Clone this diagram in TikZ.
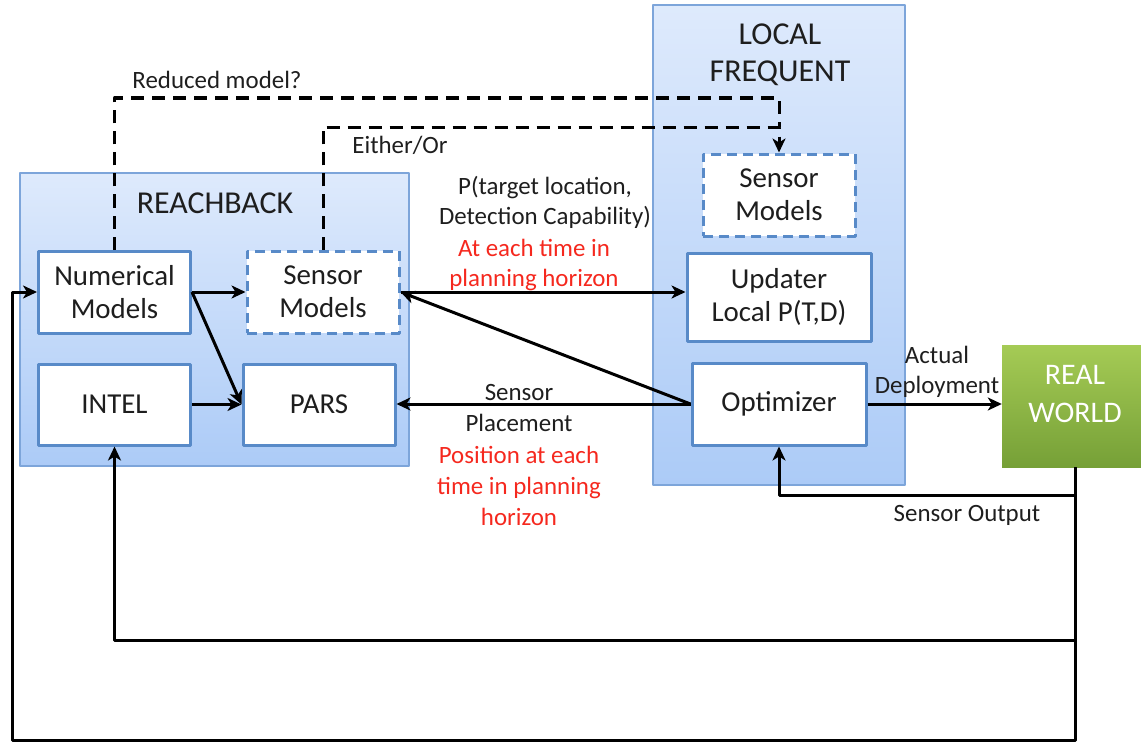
\documentclass[tikz,border=0pt]{standalone}
\usepackage{fontspec}
\setmainfont{Carlito}
\usetikzlibrary{positioning,arrows.meta}
\definecolor{boxblue}{RGB}{88,138,200}
\definecolor{panelline}{RGB}{125,165,218}
\definecolor{paneltop}{RGB}{222,234,252}
\definecolor{panelbot}{RGB}{172,203,247}
\definecolor{worldtop}{RGB}{165,203,85}
\definecolor{worldbot}{RGB}{118,160,55}
\definecolor{labelred}{RGB}{245,40,30}
\definecolor{ink}{RGB}{30,30,30}
\tikzset{
  panel/.style={draw=panelline, line width=2bp, top color=paneltop, bottom color=panelbot, inner sep=0},
  block/.style={draw=boxblue, line width=3bp, fill=white, minimum width=152bp, minimum height=82bp,
    align=center, inner sep=0, text=ink, font=\fontsize{29}{33}\selectfont},
  dashblock/.style={block, dash pattern=on 10bp off 6bp},
  title/.style={align=center, text=ink, font=\fontsize{32}{37}\selectfont},
  lbl/.style={align=center, text=ink, inner sep=0, font=\fontsize{25}{30}\selectfont},
  redlbl/.style={lbl, text=labelred},
  arr/.style={-{Stealth[length=14bp, width=13bp, inset=4bp]}, line width=3bp},
  dashline/.style={line width=3bp, dash pattern=on 13bp off 8bp},
}
\begin{document}
\begin{tikzpicture}[x=1bp, y=-1bp, line join=round]
\useasboundingbox (0,0) rectangle (1141,742);
% panels
\node[panel, minimum width=389bp, minimum height=293bp] (reach) at (214.5,319.5) {};
\node[panel, minimum width=252bp, minimum height=480bp] (local) at (779,245) {};
\node[title] (reachtitle) at (215,203) {REACHBACK};
\node[title] (localtitle) at (780,55) {LOCAL\\FREQUENT};
% blocks
\node[block] (num) at (114.5,292) {Numerical\\Models};
\node[dashblock] (sensR) at (323,292) {Sensor\\Models};
\node[block, minimum height=81bp] (intel) at (114.5,404.5) {INTEL};
\node[block, minimum height=81bp] (pars) at (319,404.5) {PARS};
\node[dashblock] (sensL) at (779,195) {Sensor\\Models};
\node[block, minimum width=184bp, minimum height=88bp] (upd) at (779,297) {Updater\\Local P(T,D)};
\node[block, minimum width=174bp] (opt) at (779,404) {Optimizer};
\node[minimum width=146bp, minimum height=122bp, top color=worldtop, bottom color=worldbot] (rw) at (1075,406) {};
\node[align=center, text=white, font=\fontsize{30}{38}\selectfont] (rwtext) at (1075,394) {REAL\\WORLD};
% labels
\node[lbl] (lreduced) at (217,80) {Reduced model?};
\node[lbl] (leither) at (400,145) {Either/Or};
\node[lbl] (lprob) at (545,202) {P(target location,\\Detection Capability)};
\node[redlbl] (lhoriz) at (534,265) {At each time in\\planning horizon};
\node[lbl, font=\fontsize{25}{31}\selectfont] (lplace) at (519,408) {Sensor\\Placement};
\node[redlbl, font=\fontsize{25}{31}\selectfont] (lpos) at (519,486) {Position at each\\time in planning\\horizon};
\node[lbl] (ldeploy) at (937,372) {Actual\\Deployment};
\node[lbl] (loutput) at (967,515) {Sensor Output};
% coordinates for routes
\coordinate (topA) at (779,98);
\coordinate (topB) at (779,127);
\coordinate (loopin) at (114.5,640);
\coordinate (loopout) at (12,740);
% connectors
\draw[arr] (num.east) -- (sensR.west);
\draw[arr] (num.east) -- (pars.west);
\draw[arr] (intel.east) -- (pars.west);
\draw[arr] (sensR.east) -- (sensR.east -| upd.west);
\draw[arr] (opt.west) -- (sensR.east);
\draw[arr] (opt.west) -- (opt.west -| pars.east);
\draw[arr] (opt.east) -- (opt.east -| rw.west);
\draw[arr] (rw.south) ++(0,28) -| (opt.south);
\draw[arr] (rw.south) |- (loopin) -- (intel.south);
\draw[arr] (rw.south) |- (loopout) |- (num.west);
\draw[dashline] (num.north) |- (topA) -- (topB);
\draw[dashline, arr, dash pattern=on 13bp off 8bp] (sensR.north) |- (topB) -- (sensL.north);
\end{tikzpicture}
\end{document}
